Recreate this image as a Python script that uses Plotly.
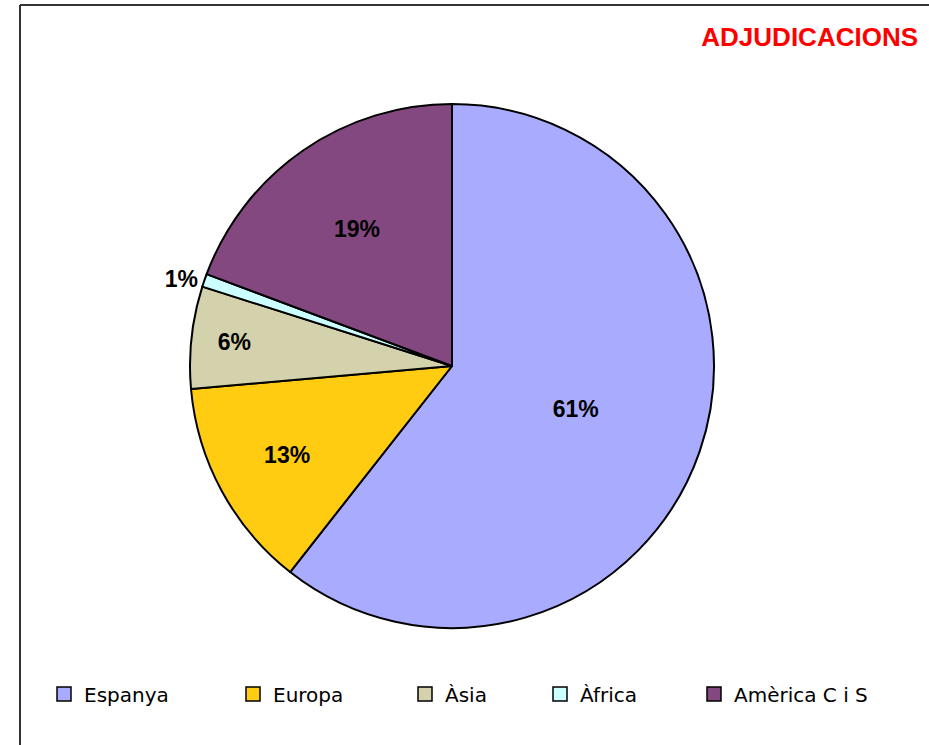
import plotly.graph_objects as go

categories = ["Espanya", "Europa", "Àsia", "Àfrica", "Amèrica C i S"]
values = [60.6, 13.0, 6.3, 0.8, 19.3]
colors = ["#A9ABFF", "#FFCC11", "#D4D2AC", "#CCFFFF", "#844880"]
positions = ["inside", "inside", "inside", "outside", "inside"]
legend_marker_x = [64, 253, 425, 560, 714]  # pixel centres of legend swatches

W, H = 929, 745
cx, cy, r = 452, 366, 262
FONT = "DejaVu Sans"
BOLD = "Liberation Sans"

fig = go.Figure()
fig.add_trace(go.Pie(
    labels=categories,
    values=values,
    sort=False,
    direction="clockwise",
    rotation=0,
    marker=dict(colors=colors, line=dict(color="black", width=2)),
    texttemplate="%{percent:.0%}",
    textposition=positions,
    insidetextorientation="horizontal",
    textfont=dict(family=BOLD, size=23, color="black", weight="bold"),
    outsidetextfont=dict(family=BOLD, size=23, color="black", weight="bold"),
    domain=dict(x=[(cx - r) / W, (cx + r) / W],
                y=[(H - cy - r) / H, (H - cy + r) / H]),
    hoverinfo="label+percent",
    showlegend=False,
))

# one legend entry per category, each in its own legend box so spacing matches
legend_layout = {}
for i, (cat, col, mx) in enumerate(zip(categories, colors, legend_marker_x)):
    key = "legend" if i == 0 else f"legend{i + 1}"
    fig.add_trace(go.Scatter(
        x=[None], y=[None], mode="markers", name=cat,
        marker=dict(symbol="square", size=14, color=col,
                    line=dict(color="black", width=1.5)),
        legend=key, showlegend=True, hoverinfo="skip",
    ))
    legend_layout[key] = dict(
        orientation="h", x=(mx - 20) / W, xanchor="left",
        y=(H - 694) / H, yanchor="middle",
        font=dict(family=FONT, size=20, color="black"),
        bgcolor="rgba(0,0,0,0)", borderwidth=0,
    )

fig.update_layout(
    width=W, height=H,
    margin=dict(l=0, r=0, t=0, b=0),
    paper_bgcolor="white",
    plot_bgcolor="white",
    xaxis=dict(visible=False),
    yaxis=dict(visible=False),
    uniformtext=dict(minsize=23, mode="show"),
    title=dict(text="<b>ADJUDICACIONS</b>", x=918 / W, xanchor="right",
               y=(H - 37) / H, yanchor="middle",
               font=dict(family=BOLD, size=26, color="#FF0000")),
    shapes=[
        dict(type="line", xref="paper", yref="paper",
             x0=20 / W, x1=20 / W, y0=0, y1=(H - 5) / H,
             line=dict(color="#333333", width=2)),
        dict(type="line", xref="paper", yref="paper",
             x0=20 / W, x1=1, y0=(H - 5) / H, y1=(H - 5) / H,
             line=dict(color="#333333", width=2)),
    ],
    **legend_layout,
)

fig.write_html(
    "out.html",
    config={"displayModeBar": False},
    post_script="document.body.style.margin='0';document.body.style.overflow='hidden';",
)
